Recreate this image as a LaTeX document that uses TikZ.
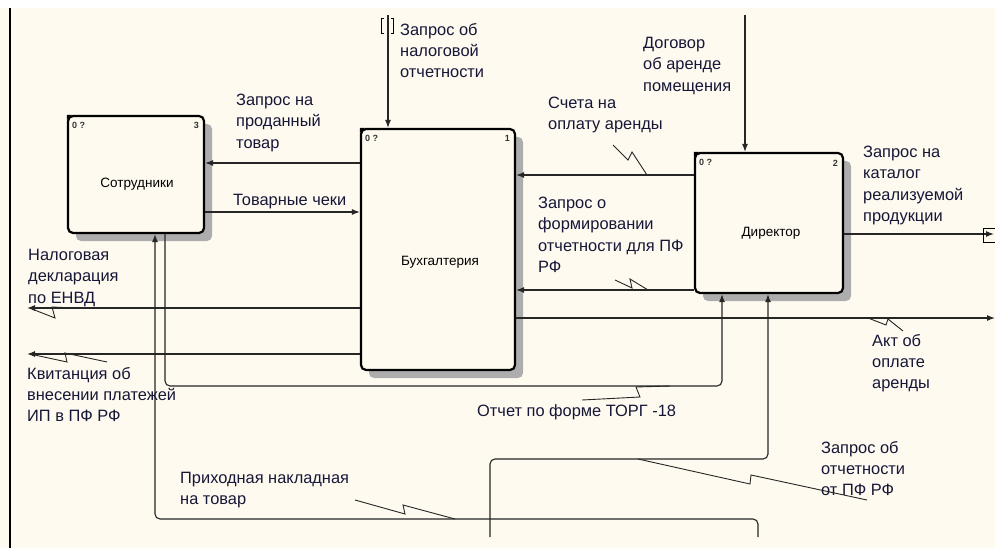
\documentclass[tikz,border=0pt]{standalone}
\usepackage{fontspec}
\setmainfont{Liberation Sans}
\usetikzlibrary{arrows.meta,shadows}
\definecolor{paper}{RGB}{255,250,240}
\definecolor{ink}{RGB}{22,22,55}
\begin{document}
\begin{tikzpicture}[x=1pt,y=-1pt,
    fn/.style={draw=black,line width=2.2pt,rounded corners=5pt,fill=paper,
      drop shadow={shadow xshift=8pt,shadow yshift=-8pt,opacity=1,fill=black!32}},
    tag/.style={font=\fontsize{9}{10}\bfseries\selectfont,text=black!80,inner sep=0pt},
    lbl/.style={anchor=north west,align=left,inner sep=0pt,text=ink,
      font=\fontsize{16.4}{21.3}\selectfont},
    flow/.style={draw=black!85,line width=1.1pt,-{Latex[length=8pt,width=6pt]}},
    bent/.style={flow,rounded corners=5pt},
    squig/.style={draw=black!85,line width=0.9pt}]
            \useasboundingbox (0,0) rectangle (995,548);
            \fill[white] (0,0) rectangle (995,8);
            \fill[paper] (0,8) rectangle (995,548);
            \draw[line width=1.4pt] (10,8) -- (10,548);
                \node[fn,minimum width=136pt,minimum height=117pt] (sotr) at (136,174.5) {};
                \node at (137,184) {\fontsize{13.5}{15}\selectfont Сотрудники};
                \node[fn,minimum width=154pt,minimum height=241pt] (buh) at (438,249.5) {};
                \node at (440,262) {\fontsize{13.5}{15}\selectfont Бухгалтерия};
                \node[fn,minimum width=148pt,minimum height=140pt] (dir) at (769,223) {};
                \node at (771,233) {\fontsize{13.5}{15}\selectfont Директор};
                \foreach \b/\n in {sotr/3,buh/1,dir/2} {
                    \fill (\b.north west) ++(0,5) -- ++(0,-5) -- ++(5,0) -- cycle;
                    \node[tag,anchor=west] at ([shift={(5,11)}]\b.north west) {0 ?};
                    \node[tag,anchor=east] at ([shift={(-6,11)}]\b.north east) {\n};
                }
                \coordinate (in-tax) at (388,15);
                \coordinate (in-dog) at (745,15);
                \coordinate (out-cat) at (994,234);
                \coordinate (out-akt) at (995,318);
                \coordinate (out-nal) at (27,308);
                \coordinate (out-kv) at (27,354);
                \coordinate (in-prih) at (758,537);
                \coordinate (in-pf) at (490,537);
                \draw[flow] (buh.west |- 0,163) -- (sotr.east |- 0,163);
                \draw[flow] (sotr.east |- 0,212) -- (buh.west |- 0,212);
                \draw[flow] (in-tax) -- (buh.north -| in-tax);
                \draw[flow] (in-dog) -- (dir.north -| in-dog);
                \draw[flow] (dir.west |- 0,175) -- (buh.east |- 0,175);
                \draw[flow] (dir.west |- 0,290) -- (buh.east |- 0,290);
                \draw[flow] (dir.east |- out-cat) -- (out-cat);
                \draw[flow] (buh.east |- out-akt) -- (out-akt);
                \draw[flow] (buh.west |- out-nal) -- (out-nal);
                \draw[flow] (buh.west |- out-kv) -- (out-kv);
                \draw[bent] (sotr.south -| 165,0) -- (165,386) -- (722,386) -- (dir.south -| 722,0);
                \draw[bent] (in-prih) -- (758,519) -- (155,519) -- (sotr.south -| 155,0);
                \draw[bent] (in-pf) -- (490,459) -- (768,459) -- (dir.south -| 768,0);
                % tunnels
                \draw[line width=0.8pt] (384,18) -- (381,18) -- (381,33) -- (384,33);
                \draw[line width=0.8pt] (391,18) -- (393,18) -- (393,33) -- (391,33);
                \draw[line width=0.8pt] (995,228) -- (983,228) -- (983,242) -- (995,242);
                \node[lbl] (t-prod) at (236,94) {Запрос на\\проданный\\товар};
                \node[lbl] (t-cheki) at (233,194) {Товарные чеки};
                \node[lbl] (t-tax) at (400,23) {Запрос об\\налоговой\\отчетности};
                \node[lbl] (t-dog) at (643,37) {Договор\\об аренде\\помещения};
                \node[lbl] (t-schet) at (548,97) {Счета на\\оплату аренды};
                \node[lbl] (t-form) at (538,197) {Запрос о\\формировании\\отчетности для ПФ\\РФ};
                \node[lbl] (t-cat) at (863,146) {Запрос на\\каталог\\реализуемой\\продукции};
                \node[lbl] (t-nal) at (28,249) {Налоговая\\декларация\\по ЕНВД};
                \node[lbl] (t-kv) at (27,367) {Квитанция об\\внесении платежей\\ИП в ПФ РФ};
                \node[lbl] (t-prih) at (180,472) {Приходная накладная\\на товар};
                \node[lbl] (t-torg) at (477,404) {Отчет по форме ТОРГ -18};
                \node[lbl] (t-akt) at (872,334) {Акт об\\оплате\\аренды};
                \node[lbl] (t-pf) at (821,441) {Запрос об\\отчетности\\от ПФ РФ};
                \draw[squig] (613,145) -- (628,160) -- (632,152) -- (647,175);
                \draw[squig] (615,280) -- (632,288) -- (630,279) -- (648,290);
                \draw[squig] (868,318) -- (886,325) -- (888,319) -- (903,331);
                \draw[squig] (32,309) -- (55,318) -- (52,307) -- (75,308);
                \draw[squig] (30,354) -- (67,362) -- (65,353) -- (107,362);
                \draw[squig] (582,400) -- (640,397) -- (636,387) -- (670,386);
                \draw[squig] (355,500) -- (405,514) -- (403,505) -- (455,519);
                \draw[squig] (638,459) -- (750,484) -- (751,475) -- (867,500);
            \end{tikzpicture}
\end{document}
